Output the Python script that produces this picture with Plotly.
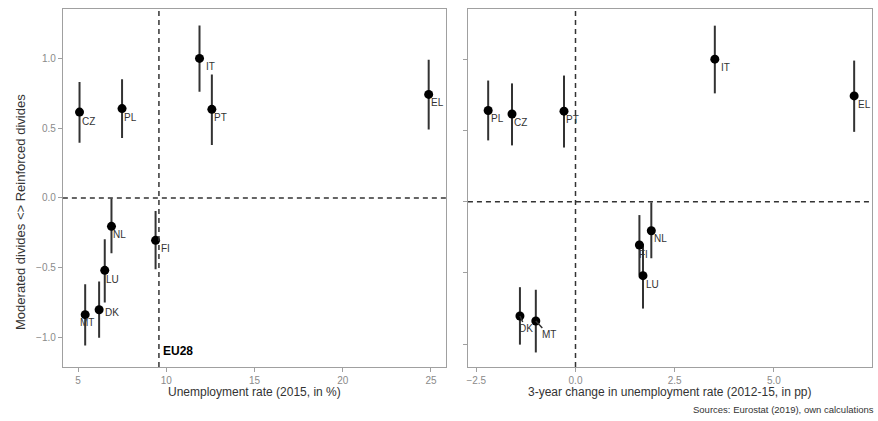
import plotly.graph_objects as go

# ---- data ----
countries = ["CZ", "PL", "IT", "PT", "EL", "NL", "FI", "LU", "DK", "MT"]
unemp_2015 = [5.08, 7.49, 11.88, 12.58, 24.87, 6.89, 9.39, 6.51, 6.19, 5.40]
change_2012_15 = [-1.60, -2.20, 3.51, -0.29, 7.02, 1.91, 1.61, 1.70, -1.40, -1.00]
divide_score = [0.615, 0.640, 1.000, 0.635, 0.742, -0.204, -0.304, -0.519, -0.802, -0.837]
score_low = [0.395, 0.430, 0.760, 0.380, 0.490, -0.397, -0.512, -0.750, -1.003, -1.058]
score_high = [0.830, 0.850, 1.235, 0.885, 0.990, -0.005, -0.094, -0.296, -0.600, -0.618]
eu28_unemp = 9.58
y_ticks = [-1.0, -0.5, 0.0, 0.5, 1.0]
x1_ticks = [5, 10, 15, 20, 25]
x2_ticks = [-2.5, 0.0, 2.5, 5.0]

# label offsets in pixels (dx, dy), dy positive = downward; style only
off_left = {"CZ": (0, 9), "PL": (0, 9), "IT": (4, 8), "PT": (0, 8), "EL": (0, 8),
            "NL": (0, 8), "FI": (3, 8), "LU": (-1, 9), "DK": (4, 3), "MT": (-7, 8)}
off_right = {"PL": (1, 8), "CZ": (0, 8), "PT": (0, 8), "IT": (4, 8), "EL": (2, 9),
             "NL": (1, 8), "FI": (-2, 9), "LU": (1, 9)}
arrow_right = {"DK": (6, 13), "MT": (13, 14)}

FONT = "Liberation Sans, Arial, sans-serif"
GRID_GREY = "#a0a0a0"
TICK_GREY = "#8a8a8a"

fig = go.Figure()

err = dict(type="data", symmetric=False,
           array=[h - y for h, y in zip(score_high, divide_score)],
           arrayminus=[y - l for l, y in zip(score_low, divide_score)],
           width=0, thickness=2, color="#333333")

fig.add_trace(go.Scatter(x=unemp_2015, y=divide_score, mode="markers",
                         marker=dict(color="black", size=9), error_y=err,
                         xaxis="x", yaxis="y", showlegend=False, hoverinfo="skip"))
fig.add_trace(go.Scatter(x=change_2012_15, y=divide_score, mode="markers",
                         marker=dict(color="black", size=9), error_y=err,
                         xaxis="x2", yaxis="y2", showlegend=False, hoverinfo="skip"))

ann = []
lab_font = dict(family=FONT, size=10, color="#333333")
for c, x1, x2, y in zip(countries, unemp_2015, change_2012_15, divide_score):
    dx, dy = off_left[c]
    ann.append(dict(x=x1, y=y, xref="x", yref="y", text=c, showarrow=False,
                    xanchor="left", yanchor="middle", xshift=dx, yshift=-dy, font=lab_font))
    if c in off_right:
        dx, dy = off_right[c]
        ann.append(dict(x=x2, y=y, xref="x2", yref="y2", text=c, showarrow=False,
                        xanchor="left", yanchor="middle", xshift=dx, yshift=-dy, font=lab_font))
    else:
        ax, ay = arrow_right[c]
        ann.append(dict(x=x2, y=y, xref="x2", yref="y2", text=c, showarrow=True,
                        arrowhead=0, arrowwidth=1.5, arrowcolor="#333333",
                        ax=ax, ay=ay, standoff=0, startstandoff=0, font=lab_font))

ann.append(dict(x=eu28_unemp, y=-1.10, xref="x", yref="y", text="<b>EU28</b>",
                showarrow=False, xanchor="left", yanchor="middle", xshift=2,
                font=dict(family=FONT, size=12, color="black")))

ann.append(dict(x=18 / 878, y=1 - 212 / 421, xref="paper", yref="paper",
                text="Moderated divides <> Reinforced divides", textangle=-90,
                showarrow=False, xanchor="center", yanchor="middle",
                font=dict(family=FONT, size=13, color="#333333")))
ann.append(dict(x=253 / 878, y=1 - 391.5 / 421, xref="paper", yref="paper",
                text="Unemployment rate (2015, in %)", showarrow=False,
                xanchor="center", yanchor="middle",
                font=dict(family=FONT, size=12, color="#333333")))
ann.append(dict(x=670 / 878, y=1 - 391.5 / 421, xref="paper", yref="paper",
                text="3-year change in unemployment rate (2012-15, in pp)", showarrow=False,
                xanchor="center", yanchor="middle",
                font=dict(family=FONT, size=12, color="#333333")))
ann.append(dict(x=876 / 878, y=1 - 409 / 421, xref="paper", yref="paper",
                text="Sources: Eurostat (2019), own calculations", showarrow=False,
                xanchor="right", yanchor="middle",
                font=dict(family=FONT, size=9.5, color="#333333")))

dash = dict(color="#333333", width=1.5, dash="5px,4px")
shapes = [
    dict(type="line", xref="x domain", yref="y", x0=0, x1=1, y0=0, y1=0, line=dash),
    dict(type="line", xref="x", yref="y domain", x0=eu28_unemp, x1=eu28_unemp, y0=0, y1=1, line=dash),
    dict(type="line", xref="x2 domain", yref="y2", x0=0, x1=1, y0=0, y1=0, line=dash),
    dict(type="line", xref="x2", yref="y2 domain", x0=0, x1=0, y0=0, y1=1, line=dash),
]

axis_common = dict(showgrid=False, zeroline=False, showline=True, mirror=True,
                   linecolor=GRID_GREY, linewidth=1, ticks="outside", ticklen=4,
                   tickcolor=GRID_GREY, tickwidth=1,
                   tickfont=dict(family=FONT, size=10, color=TICK_GREY))

ydom = [1 - 367 / 421, 1 - 9 / 421]
fig.update_layout(
    width=878, height=421, autosize=False,
    margin=dict(l=0, r=0, t=0, b=0),
    paper_bgcolor="white", plot_bgcolor="white",
    xaxis=dict(domain=[61 / 878, 445 / 878], range=[4.135, 25.85],
               tickvals=x1_ticks, anchor="y", **axis_common),
    yaxis=dict(domain=ydom, range=[-1.212, 1.354], tickvals=y_ticks,
               tickformat=".1f", anchor="x", **axis_common),
    xaxis2=dict(domain=[467 / 878, 872 / 878], range=[-2.71, 7.47],
                tickvals=x2_ticks, tickformat=".1f", anchor="y2", **axis_common),
    yaxis2=dict(domain=ydom, range=[-1.16, 1.352], tickvals=y_ticks,
                showticklabels=False, anchor="x2", **axis_common),
    annotations=ann, shapes=shapes,
)

fig.write_html("out.html", config={"displayModeBar": False},
               post_script="document.body.style.margin='0px';document.body.style.overflow='hidden';")
